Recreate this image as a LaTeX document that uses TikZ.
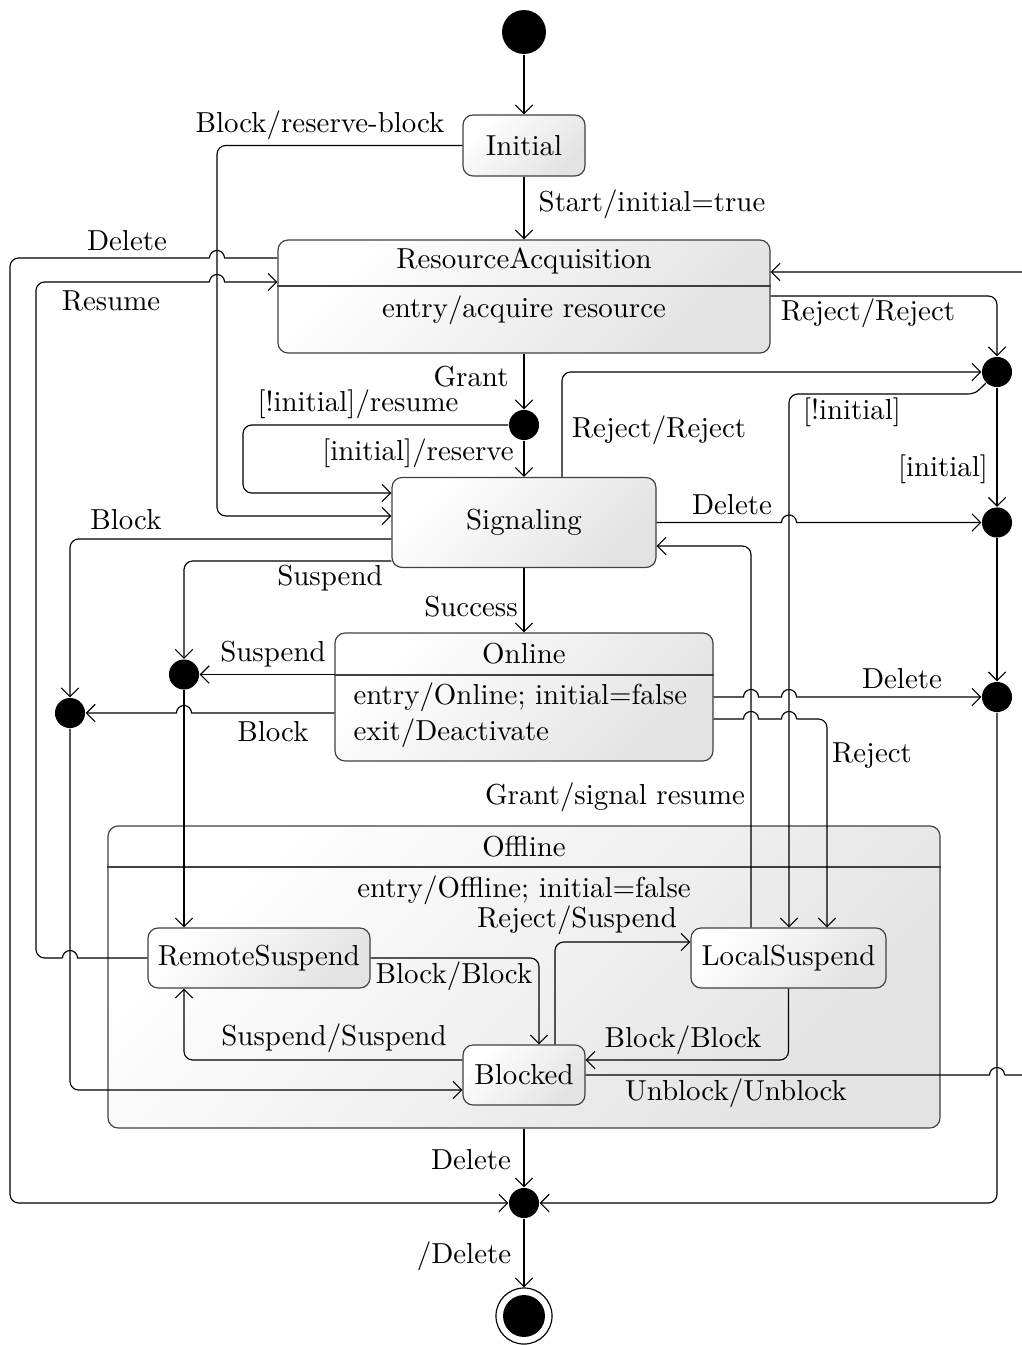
\documentclass[tikz,border=0pt]{standalone}
\usetikzlibrary{arrows.meta}
\begin{document}
\begin{tikzpicture}[x=0.346pt, y=-0.346pt,
  statebox/.style={draw=black!75, rounded corners=3.5pt, top color=white, bottom color=black!11, shading angle=45, inner sep=0pt},
  dot/.style={circle, fill=black, inner sep=0pt, minimum size=10.4pt},
  wire/.style={draw=black, rounded corners=3pt},
  conn/.style={draw=black, rounded corners=3pt, -{Straight Barb[length=3pt,width=6pt]}},
  arr/.style={draw=black, -{Straight Barb[length=3pt,width=6pt]}},
  lbl/.style={inner sep=0pt},
  bump/.style={radius=2.6pt}
]
\useasboundingbox (0,0) rectangle (1022,1345);
\clip (0,0) rectangle (1022,1345);

% ---------- states ----------
\node[statebox, minimum width=832*0.346pt, minimum height=302*0.346pt] (off) at (524,977) {};
\draw[black!75] (off.west |- 0,867) -- (off.east |- 0,867);
\node[lbl] (offt) at (524,847) {Offline};
\node[lbl] (offb) at (524,890) {entry/Offline; initial=false};

\node[dot, minimum size=15.2pt] (init) at (524,32) {};
\node[statebox, minimum width=122*0.346pt, minimum height=61*0.346pt] (initial) at (524,145.5) {Initial};

\node[statebox, minimum width=492*0.346pt, minimum height=113*0.346pt] (ra) at (524,296.5) {};
\draw[black!75] (ra.west |- 0,286) -- (ra.east |- 0,286);
\node[lbl] (rat) at (524,261) {ResourceAcquisition};
\node[lbl] (rab) at (524,310) {entry/acquire resource};

\node[dot] (g) at (524,425) {};
\node[statebox, minimum width=264*0.346pt, minimum height=90*0.346pt] (sig) at (524,522.5) {Signaling};

\node[statebox, minimum width=378*0.346pt, minimum height=128*0.346pt] (onl) at (524,697) {};
\draw[black!75] (onl.west |- 0,675) -- (onl.east |- 0,675);
\node[lbl] (onlt) at (524,654) {Online};
\node[lbl, anchor=west] (onlb1) at (353,697) {entry/Online; initial=false};
\node[lbl, anchor=west] (onlb2) at (353,733) {exit/Deactivate};

\node[statebox, minimum width=222*0.346pt, minimum height=60*0.346pt] (rs) at (259,958) {RemoteSuspend};
\node[statebox, minimum width=195*0.346pt, minimum height=60*0.346pt] (ls) at (788.5,958) {LocalSuspend};
\node[statebox, minimum width=122*0.346pt, minimum height=60*0.346pt] (bl) at (524,1075) {Blocked};

\node[dot] (d1) at (997,372) {};
\node[dot] (d2) at (997,522.5) {};
\node[dot] (d3) at (997,697) {};
\node[dot] (ds) at (184,674.5) {};
\node[dot] (db) at (70,713) {};
\node[dot] (fj) at (524,1203) {};
\node[circle, draw=black, inner sep=0pt, minimum size=19.4pt] (fin) at (524,1316) {};
\node[dot, minimum size=14.5pt] (finin) at (fin.center) {};

% ---------- connectors ----------
\draw[conn] (init) -- (initial);
\draw[conn] (initial) -- (ra);
\draw[conn] (initial.west) -- (217,145.5) -- (217,516) -- (sig.west |- 0,516);
% Delete (from ResourceAcquisition)
\draw (ra.west |- 0,258) -- (224.5,258) arc[start angle=0, end angle=180, bump];
\draw[conn] (209.47,258) -- (10,258) -- (10,1203) -- (fj);
% Resume
\draw (rs.west) -- (77.5,958) arc[start angle=0, end angle=180, bump];
\draw[wire] (62.47,958) -- (36,958) -- (36,282) -- (209.5,282);
\draw[arr] (209.5,282) arc[start angle=180, end angle=0, bump] -- (ra.west |- 0,282);
\draw[conn] (ra) -- (g);
\draw[conn] (g) -- (sig);
\draw[conn] (g.west) -- (243,425) -- (243,493) -- (sig.west |- 0,493);
\draw[conn] (ra.east |- 0,296) -- (997,296) -- (d1);
% Unblock/Unblock
\draw (bl.east) -- (989.5,1075) arc[start angle=180, end angle=0, bump];
\draw[conn] (1004.53,1075) -- (1045,1075) -- (1045,272) -- (ra.east |- 0,272);
\draw[conn] (sig.north -| 562,0) -- (562,372) -- (d1);
\draw[conn] (d1.south west) .. controls (975,394) .. (955,394) -- (789,394) -- (ls.north -| 789,0);
\draw[conn] (d1) -- (d2);
\draw[arr] (sig.east) -- (781.5,522.5) arc[start angle=180, end angle=0, bump] -- (d2);
\draw[conn] (d2) -- (d3);
\draw[conn] (d3) -- (997,1203) -- (fj);
\draw[arr] (onl.east |- 0,697) -- (743.5,697) arc[start angle=180, end angle=0, bump] -- (781.5,697) arc[start angle=180, end angle=0, bump] -- (d3);
\draw (onl.east |- 0,719) -- (743.5,719) arc[start angle=180, end angle=0, bump] -- (781.5,719) arc[start angle=180, end angle=0, bump];
\draw[conn] (796.53,719) -- (827,719) -- (ls.north -| 827,0);
\draw[conn] (ls.north -| 751,0) -- (751,546) -- (sig.east |- 0,546);
\draw[conn] (sig.west |- 0,539) -- (70,539) -- (db);
\draw[conn] (sig.west |- 0,561) -- (184,561) -- (ds);
\draw[conn] (sig) -- (onl);
\draw[conn] (onl.west |- 0,674.5) -- (ds);
\draw[arr] (onl.west |- 0,713) -- (191.5,713) arc[start angle=0, end angle=180, bump] -- (db);
\draw[conn] (ds) -- (ds |- rs.north);
\draw[conn] (db) -- (70,1090) -- (bl.west |- 0,1090);
\draw[conn] (rs.east) -- (539,958) -- (bl.north -| 539,0);
\draw[conn] (bl.west |- 0,1060) -- (184,1060) -- (rs.south -| 184,0);
\draw[conn] (bl.north -| 555,0) -- (555,942) -- (ls.west |- 0,942);
\draw[conn] (ls.south) -- (788.5,1060) -- (bl.east |- 0,1060);
\draw[conn] (off) -- (fj);
\draw[conn] (fj) -- (fin);

% ---------- labels ----------
\node[lbl] (l1) at (320,125) {Block/reserve-block};
\node[lbl] (l2) at (652,204) {Start/initial=true};
\node[lbl] (l3) at (127,241) {Delete};
\node[lbl] (l4) at (111,301) {Resume};
\node[lbl] (l5) at (471,377) {Grant};
\node[lbl] (l6) at (358,404) {[!initial]/resume};
\node[lbl] (l7) at (418,453) {[initial]/reserve};
\node[lbl] (l8) at (868,313) {Reject/Reject};
\node[lbl] (l9) at (659,430) {Reject/Reject};
\node[lbl] (l10) at (852,412) {[!initial]};
\node[lbl] (l11) at (943,469) {[initial]};
\node[lbl] (l12) at (732,505) {Delete};
\node[lbl] (l13) at (126,520) {Block};
\node[lbl] (l14) at (330,578) {Suspend};
\node[lbl] (l15) at (471,607) {Success};
\node[lbl] (l16) at (273,654) {Suspend};
\node[lbl] (l17) at (273,732) {Block};
\node[lbl] (l18) at (902,679) {Delete};
\node[lbl] (l19) at (872,756) {Reject};
\node[lbl] (l20) at (615,797) {Grant/signal resume};
\node[lbl] (l21) at (577,920) {Reject/Suspend};
\node[lbl] (l22) at (454,976) {Block/Block};
\node[lbl] (l23) at (334,1038) {Suspend/Suspend};
\node[lbl] (l24) at (683,1040) {Block/Block};
\node[lbl] (l25) at (736,1093) {Unblock/Unblock};
\node[lbl] (l26) at (471,1160) {Delete};
\node[lbl] (l27) at (464,1256) {/Delete};
\end{tikzpicture}
\end{document}
